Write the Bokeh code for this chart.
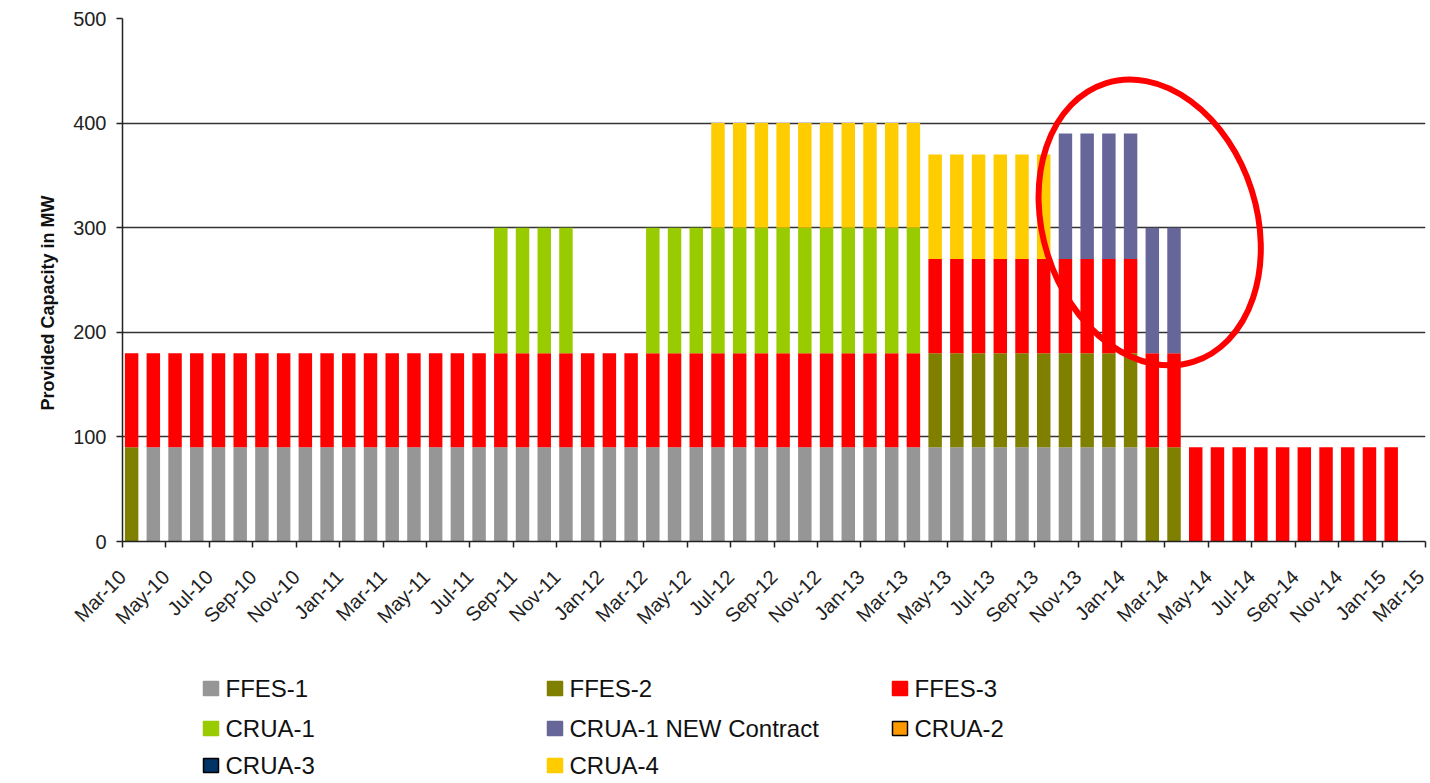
import math
from bokeh.plotting import figure
from bokeh.layouts import column
from bokeh.models import ColumnDataSource, FixedTicker, Range1d, Title, LinearAxis
from bokeh.core.properties import value
from bokeh.embed import file_html
from bokeh.resources import INLINE

# ---------------- data ----------------
months = [
    "Mar-10", "Apr-10", "May-10", "Jun-10", "Jul-10", "Aug-10", "Sep-10", "Oct-10", "Nov-10", "Dec-10", "Jan-11", "Feb-11",
    "Mar-11", "Apr-11", "May-11", "Jun-11", "Jul-11", "Aug-11", "Sep-11", "Oct-11", "Nov-11", "Dec-11", "Jan-12", "Feb-12",
    "Mar-12", "Apr-12", "May-12", "Jun-12", "Jul-12", "Aug-12", "Sep-12", "Oct-12", "Nov-12", "Dec-12", "Jan-13", "Feb-13",
    "Mar-13", "Apr-13", "May-13", "Jun-13", "Jul-13", "Aug-13", "Sep-13", "Oct-13", "Nov-13", "Dec-13", "Jan-14", "Feb-14",
    "Mar-14", "Apr-14", "May-14", "Jun-14", "Jul-14", "Aug-14", "Sep-14", "Oct-14", "Nov-14", "Dec-14", "Jan-15", "Feb-15",
]

tick_labels = [
    "Mar-10", "May-10", "Jul-10", "Sep-10", "Nov-10", "Jan-11", "Mar-11", "May-11", "Jul-11", "Sep-11", "Nov-11",
    "Jan-12", "Mar-12", "May-12", "Jul-12", "Sep-12", "Nov-12", "Jan-13", "Mar-13", "May-13", "Jul-13", "Sep-13",
    "Nov-13", "Jan-14", "Mar-14", "May-14", "Jul-14", "Sep-14", "Nov-14", "Jan-15", "Mar-15",
]

series_names = ["FFES-1", "FFES-2", "FFES-3", "CRUA-1", "CRUA-1 NEW Contract", "CRUA-2", "CRUA-3", "CRUA-4"]

ffes_1 = [
    0, 90, 90, 90, 90, 90, 90, 90, 90, 90, 90, 90,
    90, 90, 90, 90, 90, 90, 90, 90, 90, 90, 90, 90,
    90, 90, 90, 90, 90, 90, 90, 90, 90, 90, 90, 90,
    90, 90, 90, 90, 90, 90, 90, 90, 90, 90, 90, 0,
    0, 0, 0, 0, 0, 0, 0, 0, 0, 0, 0, 0,
]
ffes_2 = [
    90, 0, 0, 0, 0, 0, 0, 0, 0, 0, 0, 0,
    0, 0, 0, 0, 0, 0, 0, 0, 0, 0, 0, 0,
    0, 0, 0, 0, 0, 0, 0, 0, 0, 0, 0, 0,
    0, 90, 90, 90, 90, 90, 90, 90, 90, 90, 90, 90,
    90, 0, 0, 0, 0, 0, 0, 0, 0, 0, 0, 0,
]
ffes_3 = [
    90, 90, 90, 90, 90, 90, 90, 90, 90, 90, 90, 90,
    90, 90, 90, 90, 90, 90, 90, 90, 90, 90, 90, 90,
    90, 90, 90, 90, 90, 90, 90, 90, 90, 90, 90, 90,
    90, 90, 90, 90, 90, 90, 90, 90, 90, 90, 90, 90,
    90, 90, 90, 90, 90, 90, 90, 90, 90, 90, 90, 0,
]
crua_1 = [
    0, 0, 0, 0, 0, 0, 0, 0, 0, 0, 0, 0,
    0, 0, 0, 0, 0, 120, 120, 120, 120, 0, 0, 0,
    120, 120, 120, 120, 120, 120, 120, 120, 120, 120, 120, 120,
    120, 0, 0, 0, 0, 0, 0, 0, 0, 0, 0, 0,
    0, 0, 0, 0, 0, 0, 0, 0, 0, 0, 0, 0,
]
crua_1_new = [
    0, 0, 0, 0, 0, 0, 0, 0, 0, 0, 0, 0,
    0, 0, 0, 0, 0, 0, 0, 0, 0, 0, 0, 0,
    0, 0, 0, 0, 0, 0, 0, 0, 0, 0, 0, 0,
    0, 0, 0, 0, 0, 0, 0, 120, 120, 120, 120, 120,
    120, 0, 0, 0, 0, 0, 0, 0, 0, 0, 0, 0,
]
crua_2 = [0] * 60
crua_3 = [0] * 60
crua_4 = [
    0, 0, 0, 0, 0, 0, 0, 0, 0, 0, 0, 0,
    0, 0, 0, 0, 0, 0, 0, 0, 0, 0, 0, 0,
    0, 0, 0, 100, 100, 100, 100, 100, 100, 100, 100, 100,
    100, 100, 100, 100, 100, 100, 100, 0, 0, 0, 0, 0,
    0, 0, 0, 0, 0, 0, 0, 0, 0, 0, 0, 0,
]

colors = ["#969696", "#808000", "#FF0000", "#99CC00", "#666699", "#FF9900", "#003366", "#FFCC00"]
legend_border = ["#969696", "#808000", "#FF0000", "#99CC00", "#666699", "#000000", "#000000", "#FFCC00"]

y_title = "Provided Capacity in MW"

# ---------------- main chart ----------------
FONT = "Liberation Sans"
W = 1428
LEFT, RIGHT = 122, 3
n = len(months)

source = ColumnDataSource(dict(
    x=[i + 0.42 for i in range(n)],
    month=months,
    **{"FFES-1": ffes_1, "FFES-2": ffes_2, "FFES-3": ffes_3, "CRUA-1": crua_1,
       "CRUA-1 NEW Contract": crua_1_new, "CRUA-2": crua_2, "CRUA-3": crua_3, "CRUA-4": crua_4}
))

p = figure(width=W, height=650, output_backend="svg", toolbar_location=None,
           x_range=Range1d(0, n), y_range=Range1d(0, 500),
           min_border_left=LEFT, min_border_right=RIGHT, min_border_top=18, min_border_bottom=109)
p.outline_line_color = None
p.background_fill_color = "white"

p.vbar_stack(series_names, x="x", width=0.62, source=source,
             fill_color=colors, line_color=None)

# red highlight ellipse (annotation)
p.ellipse(x=[47.3], y=[305], width=214, height=292, width_units="screen", height_units="screen",
          angle=0.307, fill_color=None, line_color="#FF0000", line_width=6)

# axes
p.xaxis.ticker = FixedTicker(ticks=list(range(0, n + 1, 2)))
p.xaxis.major_label_overrides = {i * 2: lbl for i, lbl in enumerate(tick_labels)}
p.xaxis.major_label_orientation = math.pi / 4
p.xaxis.major_label_standoff = 26
p.yaxis.ticker = FixedTicker(ticks=[0, 100, 200, 300, 400, 500])
for ax in (p.xaxis[0], p.yaxis[0]):
    ax.axis_line_color = "#222222"
    ax.axis_line_width = 1.5
    ax.major_tick_line_color = "#222222"
    ax.major_tick_line_width = 1.5
    ax.major_tick_in = 0
    ax.major_tick_out = 6
    ax.minor_tick_line_color = None
    ax.major_label_text_font = FONT
    ax.major_label_text_font_size = "20px"
    ax.major_label_text_color = "#222222"
p.yaxis.major_label_standoff = 10

# invisible spacer axis (white, no ticks) so that the side title sits further left
spacer = LinearAxis(ticker=FixedTicker(ticks=[]), axis_line_color=None, major_tick_line_color="white",
                    minor_tick_line_color=None, major_tick_in=0, major_tick_out=20)
p.add_layout(spacer, "left")

# y-axis title as a side title, starting a little above the frame bottom
ytitle = Title(text=y_title, align="left", offset=131, standoff=26,
               text_font=FONT, text_font_style="bold", text_font_size="18px", text_color="#111111")
p.add_layout(ytitle, "left")

p.xgrid.grid_line_color = None
p.ygrid.grid_line_color = "#333333"
p.ygrid.grid_line_width = 1.5

# ---------------- legend (separate strip below) ----------------
LH = 131
lg = figure(width=W, height=LH, output_backend="svg", toolbar_location=None,
            x_range=Range1d(LEFT, W - RIGHT), y_range=Range1d(LH, 0),
            x_axis_location=None, y_axis_location=None,
            min_border_left=LEFT, min_border_right=RIGHT, min_border_top=0, min_border_bottom=0)
lg.outline_line_color = None
lg.xgrid.visible = False
lg.ygrid.visible = False

col_x = [203, 547, 892]
row_y = [38, 78, 115]
sq_x, sq_y, tx, ty = [], [], [], []
for k in range(len(series_names)):
    r, c = divmod(k, 3)
    sq_x.append(col_x[c] + 7.5)
    sq_y.append(row_y[r])
    tx.append(col_x[c] + 22)
    ty.append(row_y[r])

lg.rect(x=sq_x, y=sq_y, width=15, height=14, fill_color=colors, line_color=legend_border, line_width=1.5)
lg.text(x=tx, y=ty, text=series_names, text_font=value(FONT), text_font_size="24px",
        text_baseline="middle", text_align="left", text_color="#111111")

open("out.html", "w").write(file_html(column(p, lg, spacing=0), INLINE))
